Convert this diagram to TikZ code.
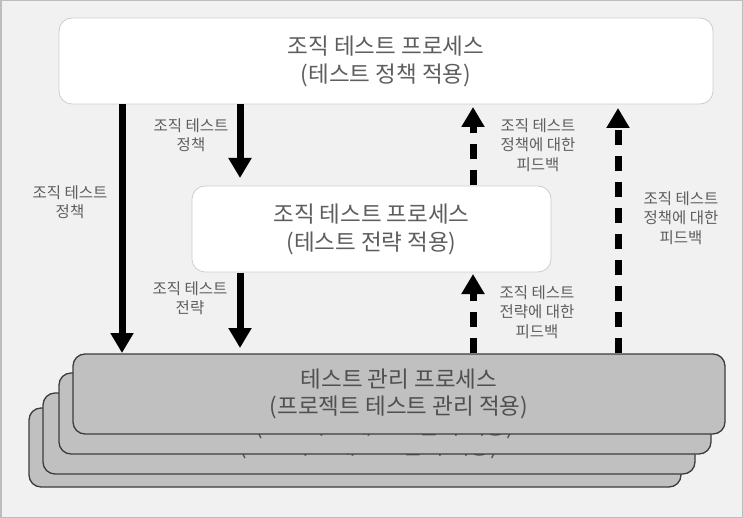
\documentclass[tikz,border=0pt]{standalone}
\usepackage{fontspec}
\setmainfont{Noto Sans CJK KR}
\usetikzlibrary{arrows.meta}
\definecolor{bgc}{HTML}{F1F1F1}
\definecolor{framec}{HTML}{BDBDBD}
\definecolor{txtc}{HTML}{5E5E5E}
\definecolor{wboxline}{HTML}{CDCDCD}
\definecolor{gboxfill}{HTML}{C0C0C0}
\definecolor{gboxline}{HTML}{3C3C3C}
\tikzset{
  wbox/.style={draw=wboxline, line width=0.8pt, fill=white, rounded corners=13pt, text=txtc,
    font=\fontsize{22.5}{28}\selectfont, align=center, inner sep=0pt},
  gbox/.style={draw=gboxline, line width=1.3pt, fill=gboxfill, rounded corners=12pt, text=txtc!85!black,
    font=\fontsize{22.5}{27}\selectfont, align=center, inner sep=0pt},
  lbl/.style={text=txtc, font=\fontsize{15.5}{19.5}\selectfont, align=center, inner sep=0pt},
  solidarrow/.style={line width=7pt, -{Triangle[width=22pt,length=20pt]}},
  dasharrow/.style={line width=7pt, dash pattern=on 15pt off 11pt, -{Triangle[width=22pt,length=20pt]}},
}
\begin{document}
\begin{tikzpicture}[x=1pt,y=-1pt]
\useasboundingbox (0,0) rectangle (743,518);
\fill[bgc] (0,0) rectangle (743,518);
\draw[framec, line width=1.5pt] (0.75,0.75) rectangle (742.25,517.25);

% top box
\node[wbox, minimum width=654pt, minimum height=86pt] (top) at (386,61) {조직 테스트 프로세스\\(테스트 정책 적용)};
% middle box
\node[wbox, minimum width=359pt, minimum height=86pt] (mid) at (371.5,229) {조직 테스트 프로세스\\(테스트 전략 적용)};

% stacked bottom boxes
\node[gbox, minimum width=652pt, minimum height=79pt] (b4) at (355,447.5) {테스트 관리 프로세스\\(프로젝트 테스트 관리 적용)};
\node[gbox, minimum width=652pt, minimum height=81pt] (b3) at (369,433.5) {테스트 관리 프로세스\\(프로젝트 테스트 관리 적용)};
\node[gbox, minimum width=652pt, minimum height=81pt] (b2) at (385,413.5) {테스트 관리 프로세스\\(프로젝트 테스트 관리 적용)};
\node[gbox, minimum width=652pt, minimum height=80pt] (b1) at (399,394) {테스트 관리 프로세스\\(프로젝트 테스트 관리 적용)};

% coordinates for arrows
\coordinate (a1s) at (122,104.5);
\coordinate (a1e) at (122,353);
\coordinate (a2s) at (240,104.5);
\coordinate (a2e) at (240,178);
\coordinate (a3s) at (240,272.5);
\coordinate (a3e) at (240,348);
\coordinate (d1s) at (473,353);
\coordinate (d1e) at (473,274);
\coordinate (d2s) at (473,185.5);
\coordinate (d2e) at (473,107);
\coordinate (d3s) at (618,353);
\coordinate (d3e) at (618,108);

\draw[solidarrow] (a1s) -- (a1e);
\draw[solidarrow] (a2s) -- (a2e);
\draw[solidarrow] (a3s) -- (a3e);
\draw[dasharrow] (d1s) -- (d1e);
\draw[dasharrow] (d2s) -- (d2e);
\draw[dasharrow] (d3s) -- (d3e);

% labels
\node[lbl] (l1) at (70,202) {조직 테스트\\정책};
\node[lbl] (l2) at (191,135) {조직 테스트\\정책};
\node[lbl] (l3) at (190,298) {조직 테스트\\전략};
\node[lbl] (l4) at (537,312) {조직 테스트\\전략에 대한\\피드백};
\node[lbl] (l5) at (538,145) {조직 테스트\\정책에 대한\\피드백};
\node[lbl] (l6) at (681,218) {조직 테스트\\정책에 대한\\피드백};
\end{tikzpicture}
\end{document}
